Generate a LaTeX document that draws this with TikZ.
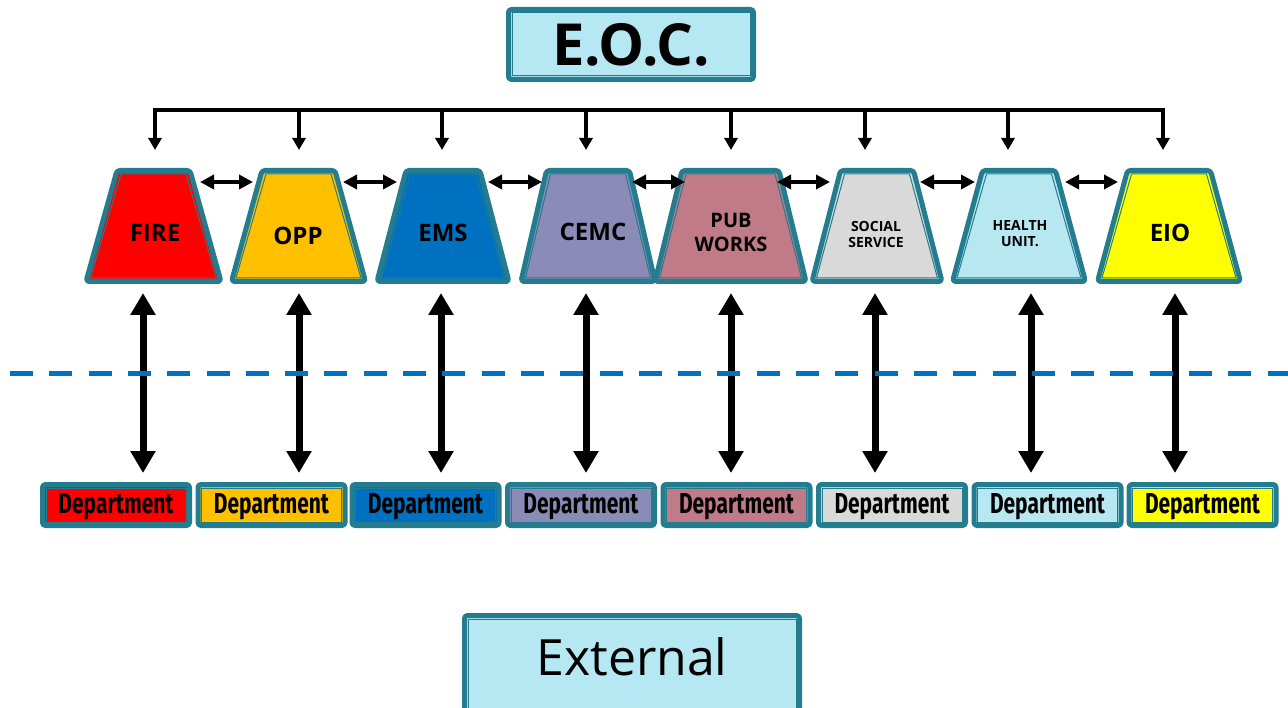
\documentclass[tikz,border=0pt]{standalone}
\usepackage{fontspec}
\usepackage{graphicx}
\setmainfont{Open Sans}
\newfontfamily\deptfont{Fira Sans}
\usetikzlibrary{arrows.meta}
\definecolor{edgeC}{HTML}{237D8F}
\definecolor{fireC}{HTML}{FF0000}
\definecolor{oppC}{HTML}{FFC000}
\definecolor{emsC}{HTML}{0070C0}
\definecolor{cemcC}{HTML}{8B8BB7}
\definecolor{pubC}{HTML}{C07A88}
\definecolor{socC}{HTML}{D9D9D9}
\definecolor{healthC}{HTML}{B7E8F2}
\definecolor{eioC}{HTML}{FFFF00}
\definecolor{boxC}{HTML}{B6E8F3}
\definecolor{dashC}{HTML}{0070C0}
\newcommand\trapshape[4]{%
  \path[outerline, fill=#4] (#1-#2+2.5,170.5) -- (#1+#2-2.5,170.5) -- (#1+#3-2.5,281.5) -- (#1-#3+2.5,281.5) -- cycle;
  \draw[innerline] (#1-#2+6.5,174) -- (#1+#2-6.5,174) -- (#1+#3-7,278) -- (#1-#3+7,278) -- cycle;
}
\newcommand\innerrect[1]{%
  \draw[innerline] ([shift={(3.5,3.5)}]#1.north west) rectangle ([shift={(-3.5,-3.5)}]#1.south east);
}
\newcommand\depttext{\resizebox{115pt}{20pt}{\deptfont\bfseries Department}}
\begin{document}
\begin{tikzpicture}[x=1pt,y=-1pt,
  outerline/.style={draw=edgeC, line width=5pt, rounded corners=3pt, line join=round},
  innerline/.style={draw=edgeC, line width=1pt},
  trapname/.style={font=\bfseries\fontsize{24}{28}\selectfont, align=center, text=black, inner sep=0pt},
  smallname/.style={font=\bfseries\fontsize{14}{16}\selectfont, align=center, text=black, inner sep=0pt},
  midname/.style={font=\bfseries\fontsize{20}{24}\selectfont, align=center, text=black, inner sep=0pt},
  busline/.style={draw=black, line width=3.5pt, {Triangle[width=13pt,length=12pt]}-{Triangle[width=13pt,length=12pt]}},
  busarrow/.style={draw=black, line width=3.5pt, -{Triangle[width=13pt,length=12pt]}},
  linkarrow/.style={draw=black, line width=3.5pt, {Triangle[width=14pt,length=14pt]}-{Triangle[width=14pt,length=14pt]}},
  bigarrow/.style={draw=black, line width=7pt, {Triangle[width=24pt,length=22pt]}-{Triangle[width=24pt,length=22pt]}},
  deptbox/.style={outerline, rectangle, minimum width=147pt, minimum height=41pt, inner sep=0pt, outer sep=0pt},
  bigbox/.style={outerline, rectangle, inner sep=0pt, outer sep=0pt, fill=boxC},
  dashline/.style={draw=dashC, line width=5pt, dash pattern=on 23pt off 16.3pt}
]
\useasboundingbox (0,0) rectangle (1288,708);

% E.O.C.
\node[bigbox, minimum width=245pt, minimum height=70pt, font=\bfseries\fontsize{58}{60}\selectfont] (eoc) at (631,44.5) {E.O.C.};
\innerrect{eoc}

% bus coordinates
\foreach \n/\x in {fire/155, opp/299, ems/442, cemc/586, pub/731, soc/865, health/1008, eio/1163}{
  \coordinate (\n-bus) at (\x,110);
  \coordinate (\n-tip) at (\x,150);
}
\draw[busline] (fire-tip) -- (fire-bus) -- (eio-bus) -- (eio-tip);
\foreach \n in {opp, ems, cemc, pub, soc, health}{
  \draw[busarrow] (\n-bus) -- (\n-tip);
}

% trapezoids
\trapshape{153.5}{39}{70}{fireC}
\node[trapname] (fire) at (155,233) {FIRE};
\trapshape{298.5}{39}{69.5}{oppC}
\node[trapname] (opp) at (298,236) {OPP};
\trapshape{443}{39.5}{68.5}{emsC}
\node[trapname] (ems) at (443,233) {EMS};
\trapshape{588}{44}{69.5}{cemcC}
\node[trapname] (cemc) at (593,232) {CEMC};
\trapshape{730.5}{51}{78}{pubC}
\node[midname] (pub) at (731,232) {PUB\\WORKS};
\trapshape{877}{39}{67.5}{socC}
\node[smallname] (soc) at (876,234) {SOCIAL\\SERVICE};
\trapshape{1019}{39}{69}{healthC}
\node[smallname] (health) at (1020,234) {HEALTH\\UNIT.};
\trapshape{1169}{44}{74}{eioC}
\node[trapname] (eio) at (1170,233) {EIO};

% links between trapezoids
\foreach \a/\b/\xa/\xb in {fire/opp/200/253, opp/ems/343/397, ems/cemc/488/542, cemc/pub/632/685, pub/soc/777/830, soc/health/920/975, health/eio/1065/1118}{
  \coordinate (\a-r) at (\xa,182);
  \coordinate (\b-l) at (\xb,182);
  \draw[linkarrow] (\a-r) -- (\b-l);
}

% big vertical arrows
\foreach \n/\x in {fire/143, opp/299, ems/441, cemc/586, pub/731, soc/875, health/1031, eio/1175}{
  \coordinate (\n-up) at (\x,293);
  \coordinate (\n-down) at (\x,473);
  \draw[bigarrow] (\n-up) -- (\n-down);
}

% dashed line
\coordinate (dash-l) at (10,374);
\coordinate (dash-r) at (1290,374);
\draw[dashline] (dash-l) -- (dash-r);

% departments
\foreach \i/\c/\x in {1/fireC/116, 2/oppC/271.5, 3/emsC/425.5, 4/cemcC/581, 5/pubC/736.5, 6/socC/892, 7/healthC/1047.5, 8/eioC/1202.5}{
  \node[deptbox, fill=\c] (dept\i) at (\x,505) {};
  \innerrect{dept\i}
  \node[inner sep=0pt] (deptlabel\i) at (\x,507) {\depttext};
}

% External
\node[bigbox, minimum width=335pt, minimum height=100pt] (ext) at (632,665.5) {};
\innerrect{ext}
\node[font=\fontsize{50}{54}\selectfont, inner sep=0pt] (extlabel) at (632,657) {External};
\end{tikzpicture}
\end{document}
